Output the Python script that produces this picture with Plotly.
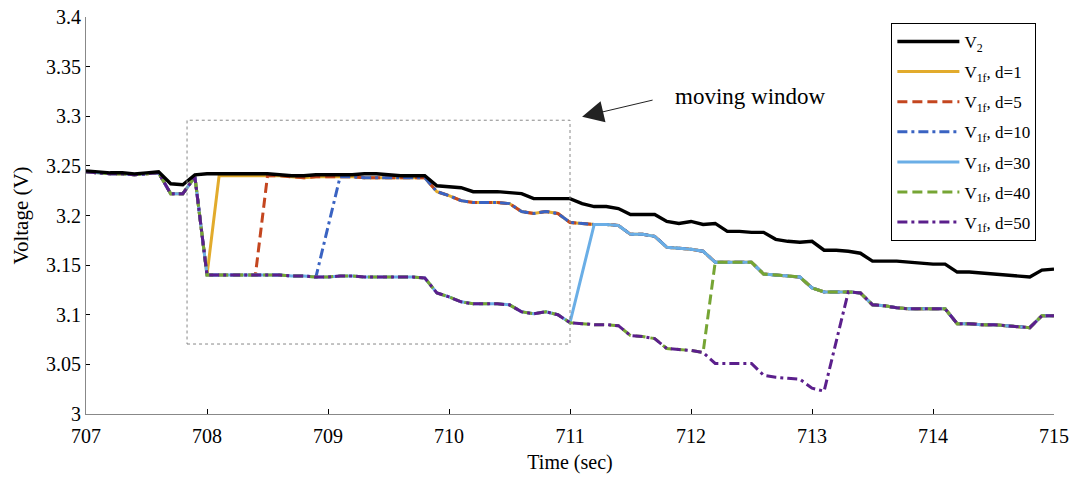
import plotly.graph_objects as go

# ---- data ----
t = [round(707 + 0.1 * i, 1) for i in range(81)]

v2 = [3.245, 3.244, 3.243, 3.243, 3.242, 3.243, 3.244, 3.232, 3.231, 3.241,
      3.242, 3.242, 3.242, 3.242, 3.242, 3.242, 3.241, 3.240, 3.240, 3.241,
      3.241, 3.241, 3.241, 3.242, 3.242, 3.241, 3.240, 3.240, 3.240, 3.230,
      3.229, 3.228, 3.224, 3.224, 3.224, 3.223, 3.222, 3.217, 3.217, 3.217,
      3.217, 3.212, 3.209, 3.209, 3.207, 3.201, 3.201, 3.201, 3.194, 3.192,
      3.194, 3.191, 3.192, 3.184, 3.184, 3.183, 3.183, 3.176, 3.174, 3.173,
      3.174, 3.165, 3.165, 3.164, 3.162, 3.154, 3.154, 3.154, 3.153, 3.152,
      3.151, 3.151, 3.143, 3.143, 3.142, 3.141, 3.140, 3.139, 3.138, 3.145,
      3.146]

# upper branch of the filtered voltage V1f (after the window has caught up)
v1f_upper = [3.244, 3.243, 3.242, 3.242, 3.241, 3.242, 3.243, 3.222, 3.222, 3.239,
             3.239, 3.240, 3.240, 3.240, 3.240, 3.240, 3.240, 3.239, 3.238, 3.239,
             3.239, 3.239, 3.239, 3.238, 3.238, 3.238, 3.238, 3.238, 3.238, 3.224,
             3.220, 3.215, 3.213, 3.213, 3.213, 3.212, 3.204, 3.202, 3.204, 3.202,
             3.193, 3.192, 3.191, 3.191, 3.190, 3.181, 3.181, 3.179, 3.168, 3.167,
             3.166, 3.164, 3.153, 3.153, 3.153, 3.153, 3.141, 3.140, 3.139, 3.138,
             3.127, 3.123, 3.123, 3.123, 3.122, 3.110, 3.109, 3.107, 3.106, 3.106,
             3.106, 3.106, 3.091, 3.091, 3.090, 3.090, 3.089, 3.088, 3.087, 3.099,
             3.099]

# lower branch of V1f inside the moving window (from t = 708.0 onward)
t_lower = [round(708 + 0.1 * i, 1) for i in range(52)]
v1f_lower = [3.140, 3.140, 3.140, 3.140, 3.140, 3.140, 3.140, 3.139, 3.139, 3.138,
             3.138, 3.139, 3.139, 3.138, 3.138, 3.138, 3.138, 3.138, 3.137, 3.122,
             3.118, 3.113, 3.111, 3.111, 3.111, 3.110, 3.103, 3.101, 3.103, 3.100,
             3.092, 3.091, 3.090, 3.090, 3.089, 3.079, 3.078, 3.076, 3.066, 3.065,
             3.064, 3.062, 3.051, 3.051, 3.051, 3.051, 3.039, 3.037, 3.036, 3.035,
             3.026, 3.023]

window_start = 708.0
d_values = [1, 5, 10, 30, 40, 50]
last_lower_t = [708.0, 708.4, 708.9, 711.0, 712.1, 713.1]
first_upper_t = [708.1, 708.5, 709.1, 711.2, 712.2, 713.3]

colors = ["#E2AB2C", "#C4461F", "#3A63C2", "#6AAEE6", "#76A534", "#5B1F8C"]
dashes = ["solid", "10px,5px", "10px,4px,3px,4px", "solid", "10px,5px", "10px,4px,3px,4px"]

y_tickvals = [3, 3.05, 3.1, 3.15, 3.2, 3.25, 3.3, 3.35, 3.4]
y_ticktext = ["3", "3.05", "3.1", "3.15", "3.2", "3.25", "3.3", "3.35", "3.4"]
x_tickvals = [707, 708, 709, 710, 711, 712, 713, 714, 715]

FONT = "Liberation Serif, Times New Roman, serif"

fig = go.Figure()

for i, d in enumerate(d_values):
    xs, ys = [], []
    for tt, vv in zip(t, v1f_upper):
        if tt < window_start:
            xs.append(tt); ys.append(vv)
    for tt, vv in zip(t_lower, v1f_lower):
        if tt <= last_lower_t[i] + 1e-9:
            xs.append(tt); ys.append(vv)
    for tt, vv in zip(t, v1f_upper):
        if tt >= first_upper_t[i] - 1e-9:
            xs.append(tt); ys.append(vv)
    fig.add_trace(go.Scatter(
        x=xs, y=ys, mode="lines",
        name=f"V<sub>1f</sub>, d={d}",
        line=dict(color=colors[i], width=3, dash=dashes[i]),
        legendrank=2 + i, legendgroup=f"g{i}",
    ))

fig.add_trace(go.Scatter(
    x=t, y=v2, mode="lines", name="V<sub>2</sub>",
    line=dict(color="black", width=3.4),
    legendrank=1, legendgroup="v2",
))

# moving window box
fig.add_shape(type="rect", x0=707.835, x1=711.0, y0=3.0705, y1=3.296,
              xref="x", yref="y", line=dict(color="#888888", width=1, dash="dot"))

# arrow + label
fig.add_annotation(x=711.1, y=3.2995, xref="x", yref="y", text="",
                   showarrow=True, ax=72, ay=-17, arrowhead=2, arrowsize=4.3,
                   arrowwidth=1, arrowcolor="#222222", standoff=0)
fig.add_annotation(x=712.49, y=3.3204, xref="x", yref="y", text="moving window",
                   showarrow=False, font=dict(family=FONT, size=23, color="black"))

fig.update_layout(
    width=1076, height=477,
    margin=dict(l=86, r=22, t=17, b=63),
    paper_bgcolor="white", plot_bgcolor="white",
    font=dict(family=FONT, size=18, color="black"),
    showlegend=True,
    legend=dict(
        x=0.832, y=0.985, xanchor="left", yanchor="top",
        bgcolor="white", bordercolor="black", borderwidth=1,
        font=dict(family=FONT, size=17, color="black"),
        tracegroupgap=5, itemwidth=62,
    ),
)
fig.update_xaxes(
    range=[707, 715], tickvals=x_tickvals, ticks="inside", ticklen=5,
    tickcolor="black", showline=True, linecolor="#888888", linewidth=1,
    showgrid=False, zeroline=False, mirror=False, ticklabelstandoff=4,
    automargin=False,
    title=dict(text="Time (sec)", font=dict(family=FONT, size=20), standoff=8),
    tickfont=dict(family=FONT, size=20),
)
fig.update_yaxes(
    range=[3, 3.4], tickvals=y_tickvals, ticktext=y_ticktext, ticks="inside",
    ticklen=4, tickcolor="black", showline=True, linecolor="#888888", linewidth=1,
    showgrid=False, zeroline=False, mirror=False, automargin=False,
    title=dict(text="Voltage (V)", font=dict(family=FONT, size=21), standoff=11),
    tickfont=dict(family=FONT, size=20),
)

fig.write_html("out.html")
